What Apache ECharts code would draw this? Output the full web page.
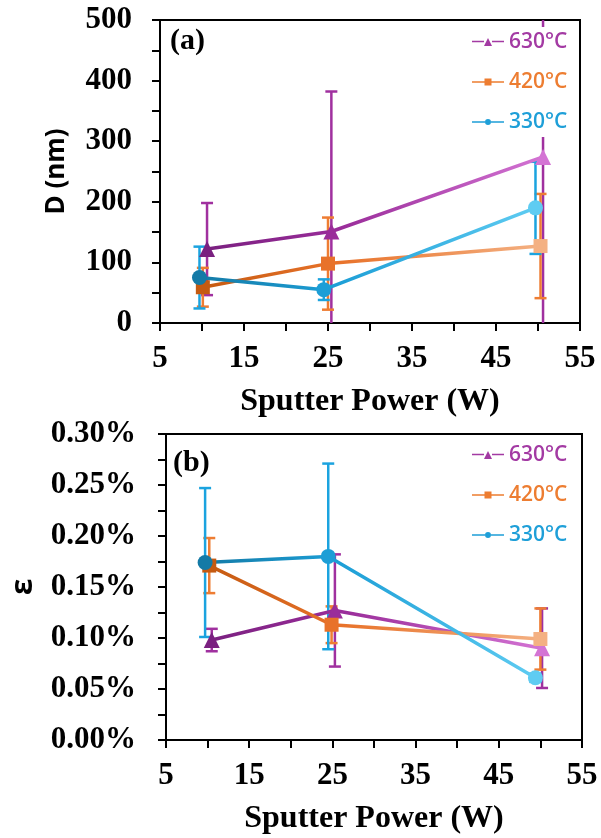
<!DOCTYPE html>
<html>
<head>
<meta charset="utf-8">
<script src="https://cdn.jsdelivr.net/npm/echarts@6/dist/echarts.min.js"></script>
<style>
html,body{margin:0;padding:0;background:#fff;}
#chart{width:601px;height:838px;}
</style>
</head>
<body>
<div id="chart"></div>
<script>
// ---------- data ----------
const seriesNames = ['630°C', '420°C', '330°C'];

// Panel (a): crystallite size D (nm)
const a630x = [10.6, 25.4, 50.6];
const a630y = [122, 151, 274];
const a630e = [76, 231, 280];
const a420x = [10.1, 25.0, 50.3];
const a420y = [59, 98, 127];
const a420e = [32, 76, 86];
const a330x = [9.7, 24.5, 49.7];
const a330y = [75, 55, 190];
const a330e = [51, 17, 76];

// Panel (b): strain epsilon (%)
const b630x = [10.5, 25.3, 50.2];
const b630y = [0.098, 0.127, 0.090];
const b630e = [0.011, 0.055, 0.039];
const b420x = [10.2, 24.9, 50.0];
const b420y = [0.171, 0.113, 0.099];
const b420e = [0.027, 0.018, 0.030];
const b330x = [9.7, 24.5, 49.4];
const b330y = [0.174, 0.180, 0.061];
const b330e = [0.073, 0.091, 0.004];

// ---------- styles ----------
const markerColors = {
  '630°C': ['#7a2080', '#9a2d9a', '#d474d4'],
  '420°C': ['#c55a11', '#e8722a', '#f4b183'],
  '330°C': ['#147aa6', '#1c9ed6', '#5fccf2']
};
const errColors = {'630°C': '#a0309f', '420°C': '#ee7d33', '330°C': '#1ba3df'};
const legendColors = {'630°C': '#a33aa3', '420°C': '#ed7d31', '330°C': '#1e9fd8'};
const symbols = {'630°C': 'triangle', '420°C': 'rect', '330°C': 'circle'};
const symbolSizes = {'630°C': 16, '420°C': 14, '330°C': 15};
const legendIcons = {
  '630°C': 'path://M0,4.3 L12,4.3 L12,5.7 L0,5.7 Z M20,4.3 L32,4.3 L32,5.7 L20,5.7 Z M12,9.5 L16,1.5 L20,9.5 Z',
  '420°C': 'path://M0,4.3 L12.5,4.3 L12.5,5.7 L0,5.7 Z M19.5,4.3 L32,4.3 L32,5.7 L19.5,5.7 Z M12.5,1.5 L19.5,1.5 L19.5,8.5 L12.5,8.5 Z',
  '330°C': 'path://M0,4.3 L13,4.3 L13,5.7 L0,5.7 Z M19,4.3 L32,4.3 L32,5.7 L19,5.7 Z M13,5 A3,3 0 1,1 19,5 A3,3 0 1,1 13,5 Z'
};

const serifFont = '"Liberation Serif", "Times New Roman", serif';

function lineSeries(name, xs, ys, gi) {
  const cols = markerColors[name];
  return {
    name: name, type: 'line', xAxisIndex: gi, yAxisIndex: gi,
    symbol: symbols[name], symbolSize: symbolSizes[name],
    z: 5,
    lineStyle: {width: 3.5, color: {type: 'linear', x: 0, y: 0, x2: 1, y2: 0,
      colorStops: [{offset: 0, color: cols[0]}, {offset: 0.4, color: cols[1]}, {offset: 1, color: cols[2]}]}},
    itemStyle: {color: cols[1]},
    data: xs.map((x, i) => ({value: [x, ys[i]], itemStyle: {color: cols[i]}})),
    animation: false
  };
}

function errSeries(name, xs, ys, es, gi) {
  const color = errColors[name];
  return {
    name: name, type: 'custom', xAxisIndex: gi, yAxisIndex: gi, z: 3, clip: true,
    silent: true, animation: false,
    data: xs.map((x, i) => [x, ys[i] - es[i], ys[i] + es[i]]),
    renderItem: function (params, api) {
      const x = api.value(0), lo = api.value(1), hi = api.value(2);
      const pLo = api.coord([x, lo]), pHi = api.coord([x, hi]);
      const hw = 6;
      const st = {stroke: color, lineWidth: 2.5};
      return {type: 'group', children: [
        {type: 'line', shape: {x1: pLo[0], y1: pLo[1], x2: pHi[0], y2: pHi[1]}, style: st},
        {type: 'line', shape: {x1: pHi[0] - hw, y1: pHi[1], x2: pHi[0] + hw, y2: pHi[1]}, style: st},
        {type: 'line', shape: {x1: pLo[0] - hw, y1: pLo[1], x2: pLo[0] + hw, y2: pLo[1]}, style: st}
      ]};
    }
  };
}

function xAxisDef(gi) {
  return {
    gridIndex: gi, type: 'value', min: 5, max: 55, interval: 5,
    axisLine: {show: true, onZero: false, lineStyle: {color: '#000', width: 2}},
    axisTick: {show: true, inside: false, length: 8, lineStyle: {color: '#000', width: 2}},
    axisLabel: {
      margin: 20, color: '#000', fontFamily: serifFont, fontWeight: 'bold', fontSize: 31, lineHeight: 31,
      formatter: v => (Math.round(v - 5) % 10 === 0 ? String(Math.round(v)) : '')
    },
    splitLine: {show: false},
    name: 'Sputter Power (W)', nameLocation: 'middle', nameGap: 63,
    nameTextStyle: {color: '#000', fontFamily: serifFont, fontWeight: 'bold', fontSize: 32}
  };
}

function legendDef(top) {
  return {
    orient: 'vertical', left: 468, top: top, itemGap: 18, itemWidth: 32, itemHeight: 10,
    backgroundColor: '#fff', padding: [4, 4], z: 10,
    textStyle: {fontFamily: '"Open Sans", sans-serif', fontSize: 21, fontWeight: 600, lineHeight: 22},
    data: seriesNames.map(n => ({name: n, icon: legendIcons[n],
      itemStyle: {color: legendColors[n]},
      textStyle: {color: legendColors[n]}}))
  };
}

const option = {
  backgroundColor: '#fff',
  animation: false,
  grid: [
    {left: 160, top: 20, width: 420, height: 303, show: true, borderColor: '#000', borderWidth: 2, backgroundColor: 'transparent'},
    {left: 162, top: 434, width: 420, height: 306, show: true, borderColor: '#000', borderWidth: 2, backgroundColor: 'transparent'}
  ],
  legend: [legendDef(27), legendDef(440)],
  xAxis: [xAxisDef(0), xAxisDef(1)],
  yAxis: [
    {
      gridIndex: 0, type: 'value', min: 0, max: 500, interval: 50,
      axisLine: {show: true, lineStyle: {color: '#000', width: 2}},
      axisTick: {show: true, inside: false, length: 8, lineStyle: {color: '#000', width: 2}},
      axisLabel: {margin: 28, color: '#000', fontFamily: serifFont, fontWeight: 'bold', fontSize: 31,
        formatter: v => (Math.round(v) % 100 === 0 ? String(Math.round(v)) : '')},
      splitLine: {show: false},
      name: 'D (nm)', nameLocation: 'middle', nameGap: 90, nameRotate: 90,
      nameTextStyle: {color: '#000', fontFamily: '"Open Sans", sans-serif', fontWeight: 'bold', fontSize: 26}
    },
    {
      gridIndex: 1, type: 'value', min: 0, max: 0.3, interval: 0.025,
      axisLine: {show: true, lineStyle: {color: '#000', width: 2}},
      axisTick: {show: true, inside: false, length: 8, lineStyle: {color: '#000', width: 2}},
      axisLabel: {margin: 30, color: '#000', fontFamily: serifFont, fontWeight: 'bold', fontSize: 31,
        formatter: v => (Math.round(v * 1000) % 50 === 0 ? v.toFixed(2) + '%' : '')},
      splitLine: {show: false},
      name: 'ε', nameLocation: 'middle', nameGap: 128, nameRotate: 90,
      nameTextStyle: {color: '#000', fontFamily: '"Open Sans", sans-serif', fontWeight: 'bold', fontSize: 30}
    }
  ],
  graphic: [
    {type: 'text', left: 170, top: 26, z: 20, style: {text: '(a)', font: 'bold 30px ' + serifFont, fill: '#000'}},
    {type: 'text', left: 173, top: 448, z: 20, style: {text: '(b)', font: 'bold 30px ' + serifFont, fill: '#000'}}
  ],
  series: [
    errSeries('630°C', a630x, a630y, a630e, 0),
    errSeries('420°C', a420x, a420y, a420e, 0),
    errSeries('330°C', a330x, a330y, a330e, 0),
    lineSeries('630°C', a630x, a630y, 0),
    lineSeries('420°C', a420x, a420y, 0),
    lineSeries('330°C', a330x, a330y, 0),
    errSeries('630°C', b630x, b630y, b630e, 1),
    errSeries('420°C', b420x, b420y, b420e, 1),
    errSeries('330°C', b330x, b330y, b330e, 1),
    lineSeries('630°C', b630x, b630y, 1),
    lineSeries('420°C', b420x, b420y, 1),
    lineSeries('330°C', b330x, b330y, 1)
  ]
};

const chart = echarts.init(document.getElementById('chart'), null, {renderer: 'canvas'});
chart.setOption(option);
</script>
</body>
</html>
